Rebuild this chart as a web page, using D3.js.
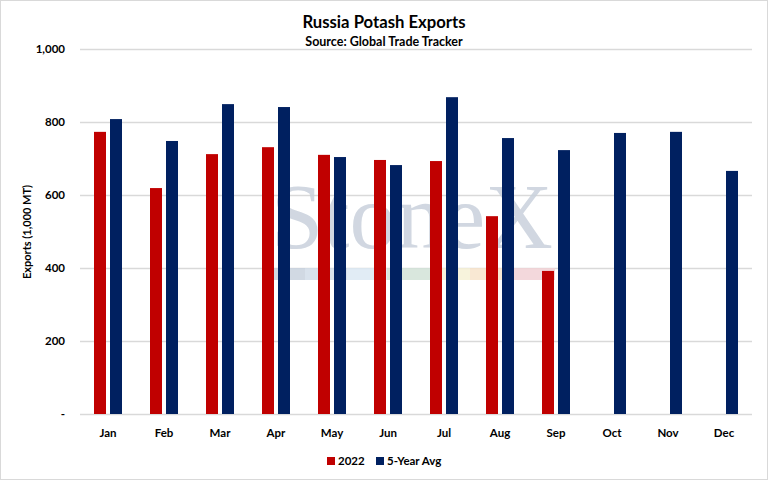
<!DOCTYPE html>
<html>
<head>
<meta charset="utf-8">
<script src="https://cdn.jsdelivr.net/npm/d3@7"></script>
<style>
  body { margin: 0; background: #fff; }
  text { font-family: Lato, "Open Sans", sans-serif; }
</style>
</head>
<body>
<div id="chart"></div>
<script>
const svgWidth = 768;
const svgHeight = 480;
const margins = {top: 49, right: 16, bottom: 66, left: 80};

// data (1,000 MT)
const months = ["Jan", "Feb", "Mar", "Apr", "May", "Jun", "Jul", "Aug", "Sep", "Oct", "Nov", "Dec"];
const exports2022 = [773, 619, 712, 731, 710, 696, 693, 542, 392, null, null, null];
const fiveYearAvg = [808, 748, 849, 841, 704, 682, 868, 756, 723, 770, 773, 666];
const seriesNames = ["2022", "5-Year Avg"];
const seriesColors = ["#C00000", "#002060"];
const yTicks = [0, 200, 400, 600, 800, 1000];

const rows = months.map((m, i) => ({month: m, values: [exports2022[i], fiveYearAvg[i]]}));

const svg = d3.select("#chart")
  .append("svg")
  .attr("width", svgWidth)
  .attr("height", svgHeight);

// chart border
svg.append("rect")
  .attr("x", 0.5).attr("y", 0.5)
  .attr("width", svgWidth - 1).attr("height", svgHeight - 1)
  .attr("fill", "#fff")
  .attr("stroke", "#d9d9d9");

const xScale = d3.scaleBand()
  .domain(months)
  .range([margins.left, svgWidth - margins.right])
  .paddingInner(0.5)
  .paddingOuter(0.25);

const xInner = d3.scaleBand()
  .domain(d3.range(seriesNames.length))
  .range([0, xScale.bandwidth()])
  .paddingInner(0.25);

const yScale = d3.scaleLinear()
  .domain([0, 1000])
  .range([svgHeight - margins.bottom, margins.top]);

// gridlines
svg.append("g")
  .selectAll("line")
  .data(yTicks)
  .join("line")
    .attr("x1", margins.left)
    .attr("x2", svgWidth - margins.right)
    .attr("y1", d => yScale(d) + 0.5)
    .attr("y2", d => yScale(d) + 0.5)
    .attr("stroke", "#d9d9d9")
    .attr("stroke-width", 1.3);

// StoneX watermark
const wm = svg.append("g").attr("opacity", 0.85);
wm.append("text")
  .attr("x", 412)
  .attr("y", 248)
  .attr("text-anchor", "middle")
  .attr("font-size", 94)
  .attr("fill", "#c9d1dc")
  .style("font-family", "'Liberation Serif', 'DejaVu Serif', serif")
  .text("StoneX");
const stripColors = ["#c9d3df", "#d3dde9", "#dce9f4", "#d3e3d8", "#f6f1d6", "#f8e4cc", "#f2d2d6"];
const stripEdges = [273, 305, 347, 387, 430, 470, 513, 555];
wm.selectAll("rect.strip")
  .data(stripColors)
  .join("rect")
    .attr("class", "strip")
    .attr("x", (d, i) => stripEdges[i])
    .attr("width", (d, i) => stripEdges[i + 1] - stripEdges[i])
    .attr("y", 268)
    .attr("height", 12)
    .attr("fill", d => d);

// bars
svg.append("g")
  .selectAll("g")
  .data(rows)
  .join("g")
    .attr("transform", d => "translate(" + xScale(d.month) + ",0)")
  .selectAll("rect")
  .data(d => d.values.map((v, i) => ({v: v, i: i})).filter(e => e.v != null))
  .join("rect")
    .attr("x", d => xInner(d.i))
    .attr("width", xInner.bandwidth())
    .attr("y", d => yScale(d.v))
    .attr("height", d => yScale(0) - yScale(d.v))
    .attr("fill", d => seriesColors[d.i]);

// y axis labels
const yAxis = svg.append("g")
  .attr("transform", "translate(" + (margins.left - 12) + ",0)")
  .call(d3.axisLeft(yScale).tickValues(yTicks).tickSize(0)
    .tickFormat(d => d === 0 ? "-" : d3.format(",")(d)));
yAxis.select(".domain").remove();
yAxis.selectAll("text")
  .attr("font-size", "11.5px")
  .attr("font-weight", "bold")
  .attr("fill", "#000")
  .style("font-family", "Lato, sans-serif");

// x axis labels
const xAxis = svg.append("g")
  .attr("transform", "translate(0," + (yScale(0) + 12) + ")")
  .call(d3.axisBottom(xScale).tickSize(0));
xAxis.select(".domain").remove();
xAxis.selectAll("text")
  .attr("font-size", "11.5px")
  .attr("font-weight", "bold")
  .attr("fill", "#000")
  .style("font-family", "Lato, sans-serif");

// titles
svg.append("text")
  .attr("x", 384).attr("y", 28)
  .attr("text-anchor", "middle")
  .attr("font-size", "16.7px")
  .attr("font-weight", "bold")
  .text("Russia Potash Exports");
svg.append("text")
  .attr("x", 384).attr("y", 46)
  .attr("text-anchor", "middle")
  .attr("font-size", "12.5px")
  .attr("font-weight", "bold")
  .text("Source: Global Trade Tracker");

svg.append("text")
  .attr("transform", "translate(31,232) rotate(-90)")
  .attr("text-anchor", "middle")
  .attr("font-size", "11px")
  .attr("font-weight", "bold")
  .text("Exports (1,000 MT)");

// legend
const legendX = [327, 376];
const legend = svg.append("g")
  .selectAll("g")
  .data(seriesNames)
  .join("g")
    .attr("transform", (d, i) => "translate(" + legendX[i] + ",457)");
legend.append("rect")
  .attr("width", 8).attr("height", 8)
  .attr("fill", (d, i) => seriesColors[i]);
legend.append("text")
  .attr("x", 11).attr("y", 8)
  .attr("font-size", "11.5px")
  .attr("font-weight", "bold")
  .text(d => d);
</script>
</body>
</html>
